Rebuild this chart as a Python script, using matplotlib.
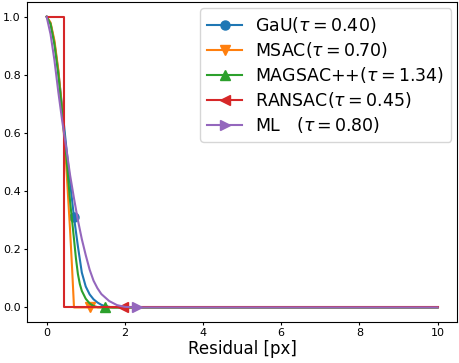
import numpy as np
import matplotlib
matplotlib.use("Agg")
import matplotlib.pyplot as plt

# points
gau_x = [0, 0.1, 0.2, 0.3, 0.4, 0.5, 0.6, 0.7, 0.8, 0.9, 1.0, 1.1, 1.2, 1.3, 1.4, 1.5, 1.7, 2.0, 10]
gau_y = [1.0, 0.977, 0.91, 0.81, 0.685, 0.555, 0.43, 0.31, 0.21, 0.12, 0.072, 0.045, 0.028, 0.017, 0.009, 0.004, 0.0, 0.0, 0.0]

msac_x = [0, 0.1, 0.2, 0.3, 0.4, 0.5, 0.6, 0.65, 0.7, 1.1, 10]
msac_y = [1.0, 0.98, 0.918, 0.816, 0.673, 0.49, 0.265, 0.138, 0.0, 0.0, 0.0]

magsac_x = [0, 0.1, 0.2, 0.3, 0.4, 0.5, 0.6, 0.7, 0.75, 0.8, 0.85, 0.9, 1.0, 1.1, 1.2, 1.3, 1.5, 10]
magsac_y = [1.0, 0.975, 0.905, 0.80, 0.67, 0.525, 0.365, 0.235, 0.168, 0.115, 0.08, 0.057, 0.03, 0.014, 0.005, 0.001, 0.0, 0.0]

ransac_x = [0, 0.45, 0.45, 1.95, 10]
ransac_y = [1.0, 1.0, 0.0, 0.0, 0.0]

ml_x = [0, 0.1, 0.2, 0.3, 0.4, 0.5, 0.6, 0.7, 0.8, 0.9, 1.0, 1.1, 1.2, 1.3, 1.4, 1.6, 1.8, 2.0, 2.3, 10]
ml_y = [1.0, 0.94, 0.85, 0.74, 0.64, 0.55, 0.455, 0.375, 0.30, 0.235, 0.18, 0.13, 0.092, 0.066, 0.046, 0.022, 0.008, 0.002, 0.0, 0.0]

series = [
    (gau_x, gau_y, 'o', 7, r'GaU($\tau=0.40$)'),
    (msac_x, msac_y, 'v', 9, r'MSAC($\tau=0.70$)'),
    (magsac_x, magsac_y, '^', 16, r'MAGSAC++($\tau=1.34$)'),
    (ransac_x, ransac_y, '<', 3, r'RANSAC($\tau=0.45$)'),
    (ml_x, ml_y, '>', 18, r'ML   ($\tau=0.80$)'),
]

fig = plt.figure(figsize=(4.59, 3.63), dpi=100)
ax = fig.add_axes([0.059, 0.113, 0.937, 0.881])

for x, y, m, k, lab in series:
    ax.plot(x, y, marker=m, markevery=[k], markersize=6.5, linewidth=1.5, label=lab)

ax.set_xlabel('Residual [px]', fontsize=12, labelpad=1)
ax.set_xticks([0, 2, 4, 6, 8, 10])
ax.set_yticks([0.0, 0.2, 0.4, 0.6, 0.8, 1.0])
ax.tick_params(labelsize=8, length=2.5, pad=2)
ax.legend(loc='upper right', fontsize=12.5, handlelength=2.0, borderaxespad=0.35,
          labelspacing=0.28, handletextpad=0.75)

fig.savefig('out.png', dpi=100)
